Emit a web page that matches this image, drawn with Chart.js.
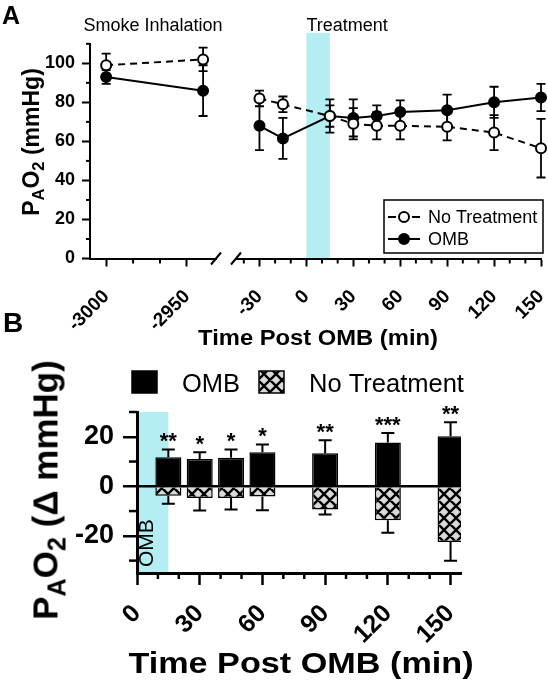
<!DOCTYPE html>
<html><head><meta charset="utf-8">
<script src="https://cdn.jsdelivr.net/npm/chart.js@4.4.1/dist/chart.umd.min.js"></script>
<style>
body{margin:0;background:#fff;}
#wrap{position:relative;width:548px;height:686px;overflow:hidden;font-family:"Liberation Sans",Arial,Helvetica,sans-serif;color:#000;background:#fff;}
canvas{position:absolute;}
.t{position:absolute;white-space:nowrap;line-height:1;font-weight:bold;}
.sub{font-size:0.72em;position:relative;top:0.3em;}
</style></head><body>
<div id="wrap">
<canvas id="cA1" width="225" height="330" style="left:0;top:0"></canvas>
<canvas id="cA2" width="323" height="330" style="left:225px;top:0"></canvas>
<canvas id="cB" width="548" height="336" style="left:0;top:350px"></canvas>
<div class="t" style="left:2px;top:3px;font-size:25px">A</div>
<div class="t" style="left:3px;top:309px;font-size:28px">B</div>
<div class="t" style="left:31px;top:142px;font-size:23px;transform:translate(-50%,-50%) rotate(-90deg)">P<span class="sub">A</span>O<span class="sub">2</span> (mmHg)</div>
<div class="t" style="left:318px;top:338px;font-size:22px;transform:translate(-50%,-50%) scaleX(1.08)">Time Post OMB (min)</div>
<div class="t" style="left:45px;top:490px;font-size:35px;transform:translate(-50%,-50%) rotate(-90deg)">P<span class="sub">A</span>O<span class="sub">2</span> (Δ mmHg)</div>
<div class="t" style="left:301px;top:663px;font-size:30px;transform:translate(-50%,-50%) scaleX(1.14)">Time Post OMB (min)</div>
</div>
<script>
// ---------------- Panel A data ----------------
const smokeTimes = [-3000, -2940];
const smokeNoTreatment = [99, 102];
const smokeNoTreatmentSD = [6, 6];
const smokeOMB = [93, 86];
const smokeOMBSD = [3.5, 13];

const postTimes = [-30, -15, 15, 30, 45, 60, 90, 120, 150];
const postNoTreatment = [82, 79, 73, 69, 68, 68, 67.5, 64.5, 56.5];
const postNoTreatmentSD = [4, 4, 5.5, 8, 7, 7, 7, 9, 15];
const postOMB = [68, 61.5, 73, 72, 73, 75, 76, 80, 82.5];
const postOMBSD = [12.5, 10.5, 8.5, 9.5, 5.5, 6, 8, 8, 7];

const yTicksA = [0, 20, 40, 60, 80, 100];
const yMinorA = [10, 30, 50, 70, 90, 110];
const xTicksSmoke = [-3000, -2950];
const xMinorSmoke = [-2983.33, -2966.67];
const xTicksPost = [-30, 0, 30, 60, 90, 120, 150];
const xMinorPost = [-40, -20, -10, 10, 20, 40, 50, 70, 80, 100, 110, 130, 140];

// ---------------- Panel B data ----------------
const barTimes = [15, 30, 45, 60, 90, 120, 150];
const deltaOMB = [11.7, 11, 11.5, 13.7, 13.3, 17.7, 20.2];
const deltaOMBErr = [3.2, 2.8, 3.4, 3.2, 5.3, 3.8, 5.7];
const deltaNoTreatment = [-3.8, -4.7, -4.7, -4.1, -9.4, -13.7, -22.5];
const deltaNoTreatmentErr = [3.2, 5.1, 4.7, 5.6, 2, 5, 7.6];
const significance = ['**', '*', '*', '*', '**', '***', '**'];
const yTicksB = [-20, 0, 20];
const yMinorB = [-30, -10, 10, 30];
const xTicksB = [0, 30, 60, 90, 120, 150];
const xMinorB = [10, 20, 40, 50, 70, 80, 100, 110, 130, 140];

const FONT = '"Liberation Sans", Arial, Helvetica, sans-serif';
const BAND = '#b4eef2';

function fixedAxis(size, isX) {
  return s => {
    if (isX) s.height = size; else s.width = size;
    s.paddingLeft = 0; s.paddingRight = 0; s.paddingTop = 0; s.paddingBottom = 0;
  };
}
function setTicks(values) { return s => { s.ticks = values.map(v => ({ value: v })); }; }
function pts(xs, ys) { return xs.map((x, i) => ({ x: x, y: ys[i] })); }

// ---------- plugins ----------
const minorTicksPlugin = {
  id: 'minorTicks',
  afterDraw(chart, args, o) {
    const ctx = chart.ctx; ctx.save(); ctx.strokeStyle = '#000';
    (o.list || []).forEach(m => {
      const s = chart.scales[m.scale];
      ctx.lineWidth = m.width;
      m.values.forEach(v => {
        const p = s.getPixelForValue(v);
        ctx.beginPath();
        if (s.isHorizontal()) { ctx.moveTo(p, s.top); ctx.lineTo(p, s.top + m.len); }
        else { ctx.moveTo(s.right, p); ctx.lineTo(s.right - m.len, p); }
        ctx.stroke();
      });
    });
    ctx.restore();
  }
};

const bandPlugin = {
  id: 'band',
  beforeDraw(chart, args, o) {
    if (!o.color) return;
    const xs = chart.scales.x, ca = chart.chartArea, ctx = chart.ctx;
    const x0 = xs.getPixelForValue(o.from), x1 = xs.getPixelForValue(o.to);
    const ext = o.extend || 0;
    ctx.save();
    ctx.fillStyle = o.color;
    ctx.fillRect(x0, ca.top - ext, x1 - x0, ca.bottom - ca.top + ext);
    if (o.text) {
      ctx.translate(x0 + o.textDx, ca.bottom - o.textDy);
      ctx.rotate(-Math.PI / 2);
      ctx.fillStyle = '#000';
      ctx.font = o.font;
      ctx.textAlign = 'left'; ctx.textBaseline = 'alphabetic';
      ctx.fillText(o.text, 0, 0);
    }
    ctx.restore();
  }
};

const errorBarsPlugin = {
  id: 'errorBars',
  beforeDatasetsDraw(chart, args, o) {
    if (o.oneSided) return;
    drawErrors(chart, o);
  },
  afterDatasetsDraw(chart, args, o) {
    if (!o.oneSided) return;
    drawErrors(chart, o);
  }
};
function drawErrors(chart, o) {
  const ctx = chart.ctx, xs = chart.scales.x, ys = chart.scales.y;
  ctx.save(); ctx.strokeStyle = '#000'; ctx.lineWidth = o.width;
  chart.data.datasets.forEach(ds => {
    if (!ds.errors) return;
    ds.data.forEach((p, i) => {
      const e = ds.errors[i];
      const x = xs.getPixelForValue(p.x);
      let yA, yB;
      if (o.oneSided) {
        yA = ys.getPixelForValue(p.y);
        yB = ys.getPixelForValue(p.y + (p.y >= 0 ? e : -e));
      } else {
        yA = ys.getPixelForValue(p.y - e);
        yB = ys.getPixelForValue(p.y + e);
      }
      ctx.beginPath();
      ctx.moveTo(x, yA); ctx.lineTo(x, yB);
      ctx.moveTo(x - o.cap, yB); ctx.lineTo(x + o.cap, yB);
      if (!o.oneSided) { ctx.moveTo(x - o.cap, yA); ctx.lineTo(x + o.cap, yA); }
      ctx.stroke();
    });
  });
  ctx.restore();
}

const notesPlugin = {
  id: 'notes',
  afterDraw(chart, args, o) {
    const ctx = chart.ctx, ca = chart.chartArea, xs = chart.scales.x;
    ctx.save(); ctx.fillStyle = '#000';
    (o.list || []).forEach(n => {
      ctx.font = n.font; ctx.textBaseline = 'alphabetic';
      let x;
      if (n.at === 'center') { x = (ca.left + ca.right) / 2; ctx.textAlign = 'center'; }
      else { x = xs.getPixelForValue(n.at); ctx.textAlign = 'left'; }
      ctx.fillText(n.text, x, ca.top + n.dy);
    });
    ctx.restore();
  }
};

const breakPlugin = {
  id: 'axisBreak',
  afterDraw(chart, args, o) {
    if (!o.side) return;
    const ca = chart.chartArea, ctx = chart.ctx;
    const x = o.side === 'right' ? ca.right : ca.left;
    const y = ca.bottom;
    ctx.save(); ctx.strokeStyle = '#000'; ctx.lineWidth = 2;
    ctx.beginPath(); ctx.moveTo(x - 5, y + 6); ctx.lineTo(x + 5, y - 6); ctx.stroke();
    ctx.restore();
  }
};

const legendAPlugin = {
  id: 'legendA',
  afterDraw(chart, args, o) {
    if (!o.show) return;
    const ctx = chart.ctx; ctx.save();
    ctx.lineWidth = 1.5; ctx.strokeStyle = '#000';
    ctx.strokeRect(o.x, o.y, o.w, o.h);
    chart.data.datasets.forEach((ds, i) => {
      const y = o.y + 17 + i * 22;
      const x0 = o.x + 4, x1 = o.x + 36, xc = o.x + 20;
      ctx.lineWidth = 2;
      ctx.beginPath();
      if (ds.borderDash && ds.borderDash.length) {
        ctx.moveTo(x0, y); ctx.lineTo(x0 + 8, y); ctx.moveTo(x1 - 8, y); ctx.lineTo(x1, y);
      } else { ctx.moveTo(x0, y); ctx.lineTo(x1, y); }
      ctx.stroke();
      ctx.beginPath(); ctx.arc(xc, y, 5, 0, 2 * Math.PI);
      ctx.fillStyle = ds.pointBackgroundColor; ctx.fill(); ctx.stroke();
      ctx.fillStyle = '#000'; ctx.font = '18px ' + FONT;
      ctx.textAlign = 'left'; ctx.textBaseline = 'middle';
      ctx.fillText(ds.label, o.x + 44, y + 1);
    });
    ctx.restore();
  }
};

const starsPlugin = {
  id: 'stars',
  afterDatasetsDraw(chart, args, o) {
    if (!o.labels) return;
    const ctx = chart.ctx, xs = chart.scales.x, ys = chart.scales.y;
    const ds = chart.data.datasets[0];
    ctx.save(); ctx.fillStyle = '#000'; ctx.font = 'bold 22px ' + FONT;
    ctx.textAlign = 'center'; ctx.textBaseline = 'alphabetic';
    ds.data.forEach((p, i) => {
      const x = xs.getPixelForValue(p.x);
      const y = ys.getPixelForValue(p.y + ds.errors[i]);
      ctx.fillText(o.labels[i], x, y + o.dy);
    });
    ctx.restore();
  }
};

const legendBPlugin = {
  id: 'legendB',
  afterDraw(chart, args, o) {
    if (!o.items) return;
    const ctx = chart.ctx; ctx.save();
    o.items.forEach((it, i) => {
      const ds = chart.data.datasets[i];
      ctx.fillStyle = ds.backgroundColor;
      ctx.fillRect(it.x, o.y, o.w, o.h);
      ctx.lineWidth = 1.5; ctx.strokeStyle = '#000';
      ctx.strokeRect(it.x, o.y, o.w, o.h);
      ctx.fillStyle = '#000'; ctx.font = '25.5px ' + FONT;
      ctx.textAlign = 'left'; ctx.textBaseline = 'alphabetic';
      ctx.fillText(ds.label, it.x + o.w + it.gap, o.y + o.h - 1);
    });
    ctx.restore();
  }
};

const allPlugins = [bandPlugin, errorBarsPlugin, minorTicksPlugin, notesPlugin, breakPlugin, legendAPlugin, starsPlugin, legendBPlugin];

function lineDatasets(times, nt, ntErr, omb, ombErr) {
  return [
    { label: 'No Treatment', data: pts(times, nt), errors: ntErr, borderColor: '#000', borderWidth: 2,
      borderDash: [7, 5], pointRadius: 5, pointBorderWidth: 2, pointBackgroundColor: '#fff',
      pointBorderColor: '#000', clip: false, tension: 0 },
    { label: 'OMB', data: pts(times, omb), errors: ombErr, borderColor: '#000', borderWidth: 2,
      pointRadius: 5, pointBorderWidth: 2, pointBackgroundColor: '#000', pointBorderColor: '#000',
      clip: false, tension: 0 }
  ];
}

const axisFontA = { family: FONT, size: 19, weight: 'bold' };
const baseOpts = { responsive: false, devicePixelRatio: 1, animation: false, events: [] };

// ---------- Panel A, smoke segment ----------
new Chart(document.getElementById('cA1'), {
  type: 'line',
  data: { datasets: lineDatasets(smokeTimes, smokeNoTreatment, smokeNoTreatmentSD, smokeOMB, smokeOMBSD) },
  options: Object.assign({}, baseOpts, {
    layout: { padding: { top: 43.8, right: 9, left: 0, bottom: 0 } },
    plugins: {
      legend: { display: false }, tooltip: { enabled: false },
      errorBars: { width: 1.8, cap: 4.5 },
      minorTicks: { list: [{ scale: 'x', values: xMinorSmoke, len: 5, width: 2 }, { scale: 'y', values: yMinorA, len: 4, width: 2 }] },
      notes: { list: [{ text: 'Smoke Inhalation', at: 'center', dy: -12.5, font: '18px ' + FONT }] },
      axisBreak: { side: 'right' }
    },
    scales: {
      x: { type: 'linear', min: -3010, max: -2932,
        afterBuildTicks: setTicks(xTicksSmoke), afterFit: fixedAxis(71.5, true),
        grid: { drawOnChartArea: false, drawTicks: true, tickLength: 8, tickWidth: 2, tickColor: '#000' },
        border: { display: true, color: '#000', width: 2 },
        ticks: { autoSkip: false, minRotation: 45, maxRotation: 45, padding: 19, color: '#000', font: axisFontA, callback: v => String(v) } },
      y: { min: 0, max: 110,
        afterBuildTicks: setTicks(yTicksA), afterFit: fixedAxis(90, false),
        grid: { drawOnChartArea: false, drawTicks: true, tickLength: 8, tickWidth: 2, tickColor: '#000' },
        border: { display: true, color: '#000', width: 2 },
        ticks: { padding: 7, color: '#000', font: { family: FONT, size: 18, weight: 'bold' }, callback: v => String(v) } }
    }
  }),
  plugins: allPlugins
});

// ---------- Panel A, post-treatment segment ----------
new Chart(document.getElementById('cA2'), {
  type: 'line',
  data: { datasets: lineDatasets(postTimes, postNoTreatment, postNoTreatmentSD, postOMB, postOMBSD) },
  options: Object.assign({}, baseOpts, {
    layout: { padding: { top: 43.8, right: 6, left: 11, bottom: 0 } },
    plugins: {
      legend: { display: false }, tooltip: { enabled: false },
      band: { color: BAND, from: 0, to: 15, extend: 11 },
      errorBars: { width: 1.8, cap: 4.5 },
      minorTicks: { list: [{ scale: 'x', values: xMinorPost, len: 5, width: 2 }] },
      notes: { list: [{ text: 'Treatment', at: 0, dy: -12.5, font: '18px ' + FONT }] },
      axisBreak: { side: 'left' },
      legendA: { show: true, x: 159, y: 200, w: 159, h: 53 }
    },
    scales: {
      x: { type: 'linear', min: -45, max: 150,
        afterBuildTicks: setTicks(xTicksPost), afterFit: fixedAxis(71.5, true),
        grid: { drawOnChartArea: false, drawTicks: true, tickLength: 8, tickWidth: 2, tickColor: '#000' },
        border: { display: true, color: '#000', width: 2 },
        ticks: { autoSkip: false, minRotation: 45, maxRotation: 45, padding: 19, color: '#000', font: axisFontA, callback: v => String(v) } },
      y: { display: false, min: 0, max: 110 }
    }
  }),
  plugins: allPlugins
});

// ---------- Panel B ----------
const cB = document.getElementById('cB');
function makeHatch(ctx) {
  const c = document.createElement('canvas'); c.width = 12; c.height = 12;
  const g = c.getContext('2d');
  g.fillStyle = '#d9d9d9'; g.fillRect(0, 0, 12, 12);
  g.strokeStyle = '#000'; g.lineWidth = 2.4;
  g.beginPath();
  [-12, 0, 12].forEach(o => {
    g.moveTo(o - 2, -2); g.lineTo(o + 14, 14);
    g.moveTo(o + 14, -2); g.lineTo(o - 2, 14);
  });
  g.stroke();
  return ctx.createPattern(c, 'repeat');
}
const hatch = makeHatch(cB.getContext('2d'));

new Chart(cB, {
  type: 'bar',
  data: { datasets: [
    { label: 'OMB', data: pts(barTimes, deltaOMB), errors: deltaOMBErr, backgroundColor: '#000',
      borderColor: '#000', borderWidth: 1.5, stack: 's', barPercentage: 0.83, categoryPercentage: 1 },
    { label: 'No Treatment', data: pts(barTimes, deltaNoTreatment), errors: deltaNoTreatmentErr, backgroundColor: hatch,
      borderColor: '#000', borderWidth: 1.5, stack: 's', barPercentage: 0.83, categoryPercentage: 1 }
  ]},
  options: Object.assign({}, baseOpts, {
    layout: { padding: { top: 62, right: 87, left: 0, bottom: 0 } },
    plugins: {
      legend: { display: false }, tooltip: { enabled: false },
      band: { color: BAND, from: 0, to: 15, extend: 0, text: 'OMB', textDx: 16, textDy: 6, font: '21px ' + FONT },
      errorBars: { width: 2, cap: 6.5, oneSided: true },
      stars: { labels: significance, dy: -1 },
      minorTicks: { list: [{ scale: 'x', values: xMinorB, len: 6, width: 2.5 }, { scale: 'y', values: yMinorB, len: 8, width: 2.5 }] },
      legendB: { y: 21, w: 25, h: 22, items: [{ x: 132, gap: 25 }, { x: 259, gap: 25 }] }
    },
    scales: {
      x: { type: 'linear', min: 0, max: 155, offset: false, stacked: true,
        afterBuildTicks: setTicks(xTicksB), afterFit: fixedAxis(113, true),
        grid: { drawOnChartArea: false, drawTicks: true, tickLength: 12, tickWidth: 2.5, tickColor: '#000', offset: false },
        border: { display: true, color: '#000', width: 3 },
        ticks: { autoSkip: false, minRotation: 45, maxRotation: 45, padding: 14, color: '#000', font: { family: FONT, size: 25, weight: 'bold' }, callback: v => String(v) } },
      y: { min: -35, max: 30, stacked: true,
        afterBuildTicks: setTicks(yTicksB), afterFit: fixedAxis(137, false),
        grid: { drawOnChartArea: true, drawTicks: true, tickLength: 14, tickWidth: 2.5, tickColor: '#000',
          color: c => (c.tick && c.tick.value === 0) ? '#000' : 'rgba(0,0,0,0)', lineWidth: 2.5 },
        border: { display: true, color: '#000', width: 3 },
        ticks: { padding: 9, color: '#000', font: { family: FONT, size: 27, weight: 'bold' }, callback: v => String(v) } }
    }
  }),
  plugins: allPlugins
});
</script>
</body></html>
